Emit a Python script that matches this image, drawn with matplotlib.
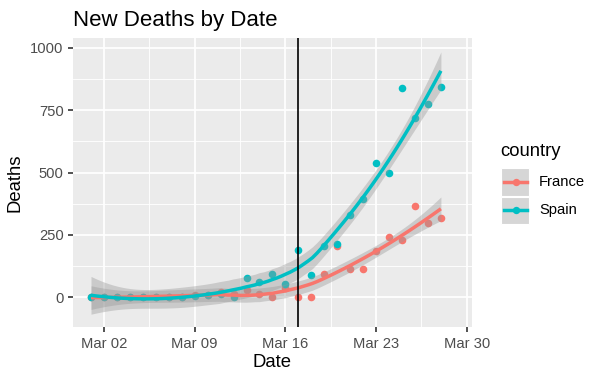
import numpy as np
import pandas as pd
import matplotlib
matplotlib.use("Agg")
import matplotlib.pyplot as plt
import matplotlib.dates as mdates
from matplotlib.lines import Line2D
from matplotlib.patches import Rectangle

plt.rcParams['font.family'] = ['Liberation Sans', 'DejaVu Sans']

dates = pd.date_range("2020-03-01", "2020-03-28", freq="D")
france = [0, 1, 1, 0, 2, 0, 2, 0, 10, 10, 20, 15, 28, 12, 0, 36, 0, 0,
          95, 206, 112, 112, 186, 240, 231, 365, 299, 319]
spain = [0, 0, 0, 0, 1, 1, 2, 3, 5, 10, 15, 0, 78, 62, 93, 55, 191, 90,
         206, 212, 332, 396, 539, 497, 838, 718, 774, 845]
countries = ["France", "Spain"]
colors = {"France": "#F8766D", "Spain": "#00BFC4"}
vline_date = pd.Timestamp("2020-03-17")
xticks = pd.to_datetime(["2020-03-02", "2020-03-09", "2020-03-16", "2020-03-23", "2020-03-30"])
yticks = [0, 250, 500, 750, 1000]


def tq(df, z=1.959964):
    return z + (z**3 + z) / (4 * df) + (5 * z**5 + 16 * z**3 + 3 * z) / (96 * df**2)


def loess_rows(x, xs, span=0.75):
    n = len(x)
    q = int(np.floor(n * span))
    rows = []
    for x0 in xs:
        d = np.abs(x - x0)
        h = np.sort(d)[q - 1]
        w = np.clip(1 - (d / h) ** 3, 0, None) ** 3
        X = np.column_stack([np.ones(n), x - x0, (x - x0) ** 2])
        XtW = X.T * w
        A = np.linalg.solve(XtW @ X, XtW)
        rows.append(A[0])
    return np.array(rows)


def smooth(x, y, xs):
    y = np.asarray(y, float)
    L = loess_rows(x, x)
    Lp = loess_rows(x, xs)
    fit = Lp @ y
    IL = np.eye(len(x)) - L
    M = IL.T @ IL
    one = np.trace(M)
    two = np.trace(M @ M)
    res = IL @ y
    sigma = np.sqrt(np.sum(res ** 2) / one)
    se = sigma * np.sqrt(np.sum(Lp ** 2, axis=1))
    t = tq(one ** 2 / two)
    return fit, fit - t * se, fit + t * se


W, H = 603, 381
fig = plt.figure(figsize=(W / 100, H / 100), dpi=100)
ax = fig.add_axes([73 / W, 1 - 327 / H, (472 - 73) / W, (327 - 38) / H])
ax.set_facecolor("#EBEBEB")

xnum = mdates.date2num(dates)
xs = np.linspace(xnum.min(), xnum.max(), 80)
data = {"France": france, "Spain": spain}

for c in countries:
    ax.scatter(dates, data[c], s=30, color=colors[c], zorder=3, linewidths=0)
for c in countries:
    fit, lo, hi = smooth(xnum, data[c], xs)
    ax.fill_between(xs, lo, hi, color="#999999", alpha=0.4, linewidth=0, zorder=4)
    ax.plot(xs, fit, color=colors[c], lw=2.5, zorder=5, solid_capstyle="butt")

ax.axvline(vline_date, color="black", lw=1.2, zorder=6)

ax.set_xticks(xticks)
ax.xaxis.set_major_formatter(mdates.DateFormatter("%b %d"))
minor_x = [mdates.date2num(xticks[0]) - 3.5] + \
          [mdates.date2num(xticks[i]) + 3.5 for i in range(len(xticks) - 1)]
ax.set_xticks(minor_x, minor=True)
ax.set_yticks(yticks)
ax.set_yticks([125, 375, 625, 875], minor=True)

x0 = mdates.date2num(pd.Timestamp("2020-03-01"))
ax.set_xlim(x0 - 1.39, x0 + 29.4)
ax.set_ylim(-119, 1040)

ax.grid(which="major", color="white", lw=1.24, zorder=0)
ax.grid(which="minor", color="white", lw=0.62, zorder=0)
ax.set_axisbelow(True)
for s in ax.spines.values():
    s.set_visible(False)
ax.tick_params(which="major", length=3.3, width=1.2, color="#333333",
               labelsize=10.6, labelcolor="#4D4D4D")
ax.tick_params(axis="y", pad=3.5)
ax.tick_params(axis="x", pad=3.8)
ax.tick_params(which="minor", length=0)

ax.set_xlabel("Date", fontsize=13.3, labelpad=2.5)
ax.set_ylabel("Deaths", fontsize=13.3, labelpad=5.0)
ax.set_title("New Deaths by Date", fontsize=16, loc="left", x=0.0, pad=9)

# legend
def px(x, y):
    return (x / W, 1 - y / H)

fig.text(*px(500, 152), "country", fontsize=13.3, va="center", ha="left")
for i, c in enumerate(countries):
    top = 168 + i * 28.5
    fig.add_artist(Rectangle(px(501, top + 27.5), 28 / W, 27.5 / H,
                             transform=fig.transFigure, facecolor="#D6D6D6",
                             edgecolor="white", lw=0.8))
    yc = top + 13.75
    fig.add_artist(Line2D([504 / W, 527 / W], [1 - yc / H] * 2, color=colors[c],
                          lw=2.5, transform=fig.transFigure))
    fig.add_artist(Line2D([515.5 / W], [1 - yc / H], marker="o", ms=5.3, mew=0,
                          color=colors[c], transform=fig.transFigure))
    fig.text(*px(539, yc), c, fontsize=10.6, va="center", ha="left")

fig.savefig("out.png", dpi=100)
